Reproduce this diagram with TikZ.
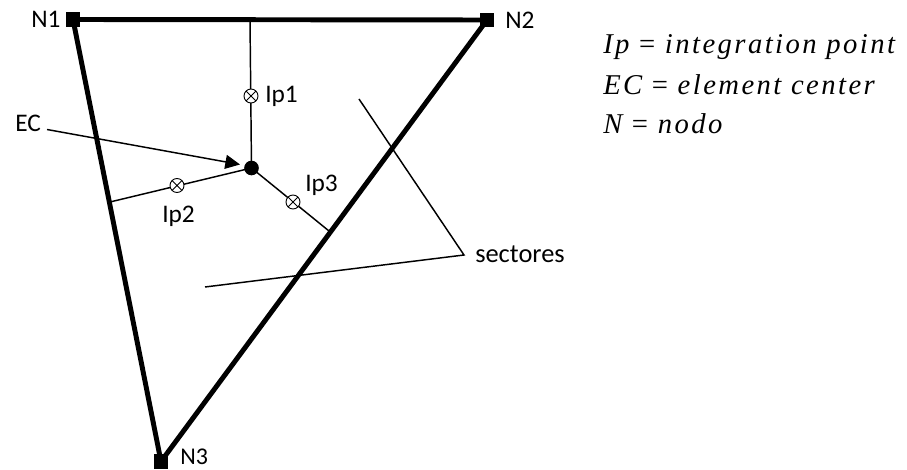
\documentclass[tikz,border=0pt]{standalone}
\usepackage{fontspec}
\setmainfont{Carlito}
\newfontfamily\keyfont[LetterSpace=8.5]{Liberation Serif}
\usetikzlibrary{arrows.meta, positioning}
\tikzset{
  nodo/.style={fill=black,draw=none,rectangle,minimum size=11pt,inner sep=0pt},
  ipmark/.style={draw=black,fill=white,circle,minimum size=10.5pt,inner sep=0pt,line width=0.7pt,
    path picture={\draw[line width=0.7pt](path picture bounding box.north west)--(path picture bounding box.south east)
      (path picture bounding box.north east)--(path picture bounding box.south west);}},
  edgeline/.style={line width=3.7pt},
  thinline/.style={line width=1.1pt},
  lab/.style={font=\fontsize{19}{22}\selectfont,inner sep=0pt,anchor=base west},
  key/.style={font=\fontsize{21.5}{24}\selectfont\keyfont\itshape,inner sep=0pt,anchor=west}
}
\begin{document}
\begin{tikzpicture}[x=0.75pt,y=-0.75pt]
        \useasboundingbox (0,0) rectangle (907,470);
        % element
        \node[nodo] (n1) at (73,19.5){};
        \node[nodo] (n2) at (487,20){};
        \node[nodo] (n3) at (161,461.5){};
        \draw[edgeline](n1.center)--(n2.center)--(n3.center)--cycle;
        \node[lab] (t1) at (31,28){N1};
        \node[lab] (t2) at (505,29){N2};
        \node[lab,font=\fontsize{18}{20}\selectfont] (t3) at (180,464.5){N3};
        % sectors
        \node[circle,fill=black,minimum size=11pt,inner sep=0pt] (ec) at (251.5,168){};
        \coordinate (s1) at (250,20);
        \coordinate (s2) at (110,202);
        \coordinate (s3) at (329,231);
        \draw[thinline](ec.center)--(s1);
        \draw[thinline](ec.center)--(s2);
        \draw[thinline](ec.center)--(s3);
        \node[ipmark] (ip1) at (251,96){};
        \node[ipmark] (ip2) at (177,185.5){};
        \node[ipmark] (ip3) at (293,202){};
        \node[lab] (t4) at (265,103){Ip1};
        \node[lab] (t5) at (162,223){Ip2};
        \node[lab] (t6) at (305,192){Ip3};
        % labels
        \node[lab] (ectext) at (15,132){EC};
        \coordinate (ecfrom) at (47,129.5);
        \coordinate (ecto) at (240,164.5);
        \draw[thinline,-{Triangle[length=11pt,width=10.5pt]}](ecfrom)--(ecto);
        \node[lab,font=\fontsize{19.8}{22}\selectfont] (sect) at (475,263){sectores};
        \coordinate (sj) at (464,255);
        \coordinate (a1) at (359,99);
        \coordinate (a2) at (205,287);
        \draw[thinline](a1)--(sj)--(a2);
        % key
        \node[key] (k1) at (603,47){Ip {\upshape=} integration point};
        \node[key] (k2) at (603,85){EC {\upshape=} element center};
        \node[key] (k3) at (603,124){N {\upshape=} nodo};
      \end{tikzpicture}
\end{document}
